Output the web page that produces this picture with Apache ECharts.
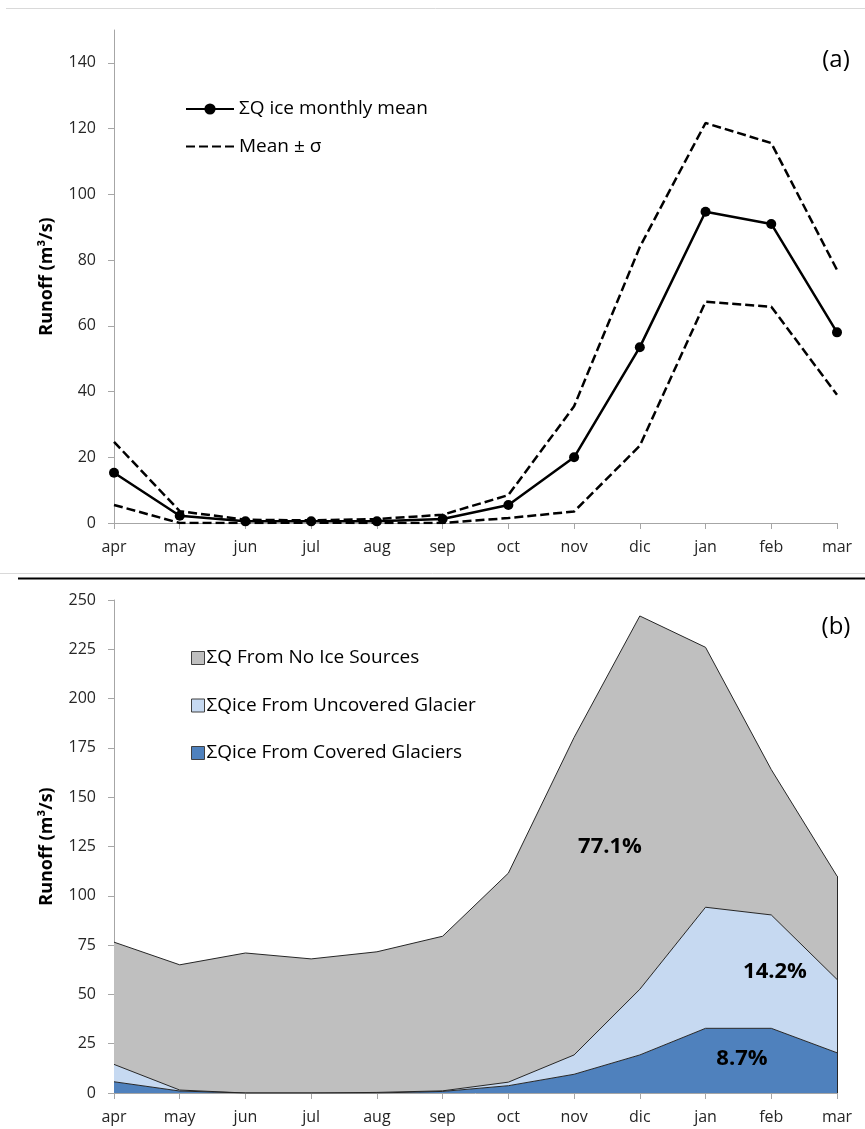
<!DOCTYPE html>
<html><head><meta charset="utf-8">
<script src="https://cdn.jsdelivr.net/npm/echarts@6/dist/echarts.min.js"></script>
<style>html,body{margin:0;padding:0;background:#fff}#c{width:865px;height:1129px}</style>
</head><body><div id="c"></div>
<script>
const months = ['apr','may','jun','jul','aug','sep','oct','nov','dic','jan','feb','mar'];
// panel (a)
const iceMean  = [15.3, 2.2, 0.5, 0.5, 0.5, 1.2, 5.5, 20, 53.5, 94.7, 91, 58];
const iceUpper = [24.7, 3.6, 1.0, 0.8, 1.2, 2.5, 8.5, 35.5, 84, 121.7, 115.6, 77];
const iceLower = [5.5, 0, 0, 0.1, 0, 0, 1.5, 3.5, 23.5, 67.3, 65.8, 39];
// panel (b), stacked components
const coveredIce   = [5.7, 1, 0, 0, 0, 0.8, 3.7, 9.5, 19.3, 32.8, 32.8, 20.4];
const uncoveredIce = [8.8, 0.5, 0, 0, 0.3, 0.3, 1.8, 9.8, 33.3, 61.4, 57.5, 37.2];
const noIce        = [62, 63.5, 71, 68, 71.3, 78.4, 106, 161, 189.3, 131.8, 73.7, 52.4];
const topTicks = [0, 20, 40, 60, 80, 100, 120, 140];
const bottomTicks = [0, 25, 50, 75, 100, 125, 150, 175, 200, 225, 250];
const shares = ['77.1%', '14.2%', '8.7%'];

const FONT = "'Open Sans', 'DejaVu Sans', sans-serif";
const axisGray = '#A6A6A6';
const last = months.length - 1;
const lastTotal = coveredIce[last] + uncoveredIce[last] + noIce[last];
const chart = echarts.init(document.getElementById('c'));

function xAx(gi) {
  return {
    type: 'category', gridIndex: gi, data: months, boundaryGap: false,
    axisLine: { lineStyle: { color: axisGray, width: 1 } },
    axisTick: { show: true, length: 6, lineStyle: { color: axisGray } },
    axisLabel: { color: '#262626', fontFamily: FONT, fontSize: 16, margin: 16 },
    splitLine: { show: false }
  };
}
function yAx(gi, max, ticks) {
  return {
    type: 'value', gridIndex: gi, min: 0, max: max,
    name: 'Runoff (m³/s)', nameLocation: 'middle', nameGap: 58,
    nameTextStyle: { fontFamily: FONT, fontWeight: 'bold', fontSize: 18, color: '#000' },
    axisLine: { show: true, lineStyle: { color: axisGray, width: 1 } },
    axisTick: { show: true, length: 6, lineStyle: { color: axisGray }, customValues: ticks },
    axisLabel: { color: '#262626', fontFamily: FONT, fontSize: 16, margin: 18, customValues: ticks },
    splitLine: { show: false }
  };
}

const option = {
  backgroundColor: '#fff',
  animation: false,
  textStyle: { fontFamily: FONT },
  grid: [
    { left: 114, right: 28, top: 30, height: 493, containLabel: false },
    { left: 114, right: 28, top: 600, height: 493, containLabel: false }
  ],
  xAxis: [xAx(0), xAx(1)],
  yAxis: [yAx(0, 150, topTicks), yAx(1, 250, bottomTicks)],
  legend: [
    {
      left: 180, top: 94, orient: 'vertical', itemGap: 17.5, itemWidth: 48, itemHeight: 14,
      textStyle: { fontFamily: FONT, fontSize: 19, lineHeight: 20, color: '#000', padding: [0,0,0,0] },
      data: [
        { name: 'ΣQ ice monthly mean' },
        { name: 'Mean ± σ', itemStyle: { opacity: 0 } }
      ]
    },
    {
      left: 186, top: 643, orient: 'vertical', itemGap: 27.5, itemWidth: 13, itemHeight: 13,
      textStyle: { fontFamily: FONT, fontSize: 19, lineHeight: 20, color: '#000', padding: [0,0,0,-3] },
      itemStyle: { borderColor: '#404040', borderWidth: 1 },
      data: [
        { name: 'ΣQ From No Ice Sources', icon: 'rect' },
        { name: 'ΣQice From Uncovered Glacier', icon: 'rect' },
        { name: 'ΣQice From Covered Glaciers', icon: 'rect' }
      ]
    }
  ],
  series: [
    {
      name: 'ΣQ ice monthly mean', type: 'line', xAxisIndex: 0, yAxisIndex: 0, data: iceMean,
      symbol: 'circle', symbolSize: 10, itemStyle: { color: '#000' },
      lineStyle: { color: '#000', width: 2.5 }, z: 5
    },
    {
      name: 'Mean ± σ', type: 'line', xAxisIndex: 0, yAxisIndex: 0, data: iceUpper,
      symbol: 'none', itemStyle: { color: '#000' },
      lineStyle: { color: '#000', width: 2.5, type: [9, 4] }
    },
    {
      name: 'Mean ± σ', type: 'line', xAxisIndex: 0, yAxisIndex: 0, data: iceLower,
      symbol: 'none', itemStyle: { color: '#000' },
      lineStyle: { color: '#000', width: 2.5, type: [9, 4] }
    },
    {
      name: 'ΣQice From Covered Glaciers', type: 'line', xAxisIndex: 1, yAxisIndex: 1, stack: 'q',
      data: coveredIce, symbol: 'none', itemStyle: { color: '#4F81BD' },
      lineStyle: { color: '#262626', width: 1 }, areaStyle: { color: '#4F81BD', opacity: 1 }
    },
    {
      name: 'ΣQice From Uncovered Glacier', type: 'line', xAxisIndex: 1, yAxisIndex: 1, stack: 'q',
      data: uncoveredIce, symbol: 'none', itemStyle: { color: '#C6D9F1' },
      lineStyle: { color: '#262626', width: 1 }, areaStyle: { color: '#C6D9F1', opacity: 1 }
    },
    {
      name: 'ΣQ From No Ice Sources', type: 'line', xAxisIndex: 1, yAxisIndex: 1, stack: 'q',
      data: noIce, symbol: 'none', itemStyle: { color: '#BFBFBF' },
      lineStyle: { color: '#262626', width: 1 }, areaStyle: { color: '#BFBFBF', opacity: 1 },
      markLine: {
        silent: true, symbol: 'none', label: { show: false },
        lineStyle: { color: '#262626', width: 1, type: 'solid' },
        data: [[{ coord: [months[last], 0] }, { coord: [months[last], lastTotal] }]]
      }
    }
  ],
  graphic: [
    { type: 'line', z: 100, shape: { x1: 6, y1: 8.5, x2: 865, y2: 8.5 }, style: { stroke: '#D9D9D9', lineWidth: 1 } },
    { type: 'line', z: 100, shape: { x1: 0, y1: 573.5, x2: 865, y2: 573.5 }, style: { stroke: '#D9D9D9', lineWidth: 1 } },
    { type: 'line', z: 100, shape: { x1: 18, y1: 578.5, x2: 865, y2: 578.5 }, style: { stroke: '#000', lineWidth: 2 } },
    { type: 'text', z: 100, x: 836, y: 60, style: { text: '(a)', font: "24px " + FONT, fill: '#000', align: 'center', verticalAlign: 'middle' } },
    { type: 'text', z: 100, x: 836, y: 627, style: { text: '(b)', font: "24px " + FONT, fill: '#000', align: 'center', verticalAlign: 'middle' } },
    { type: 'text', z: 100, x: 610, y: 847, style: { text: shares[0], font: "bold 22px " + FONT, fill: '#000', align: 'center', verticalAlign: 'middle' } },
    { type: 'text', z: 100, x: 775, y: 972, style: { text: shares[1], font: "bold 22px " + FONT, fill: '#000', align: 'center', verticalAlign: 'middle' } },
    { type: 'text', z: 100, x: 742, y: 1059, style: { text: shares[2], font: "bold 22px " + FONT, fill: '#000', align: 'center', verticalAlign: 'middle' } }
  ]
};
chart.setOption(option);
</script></body></html>
